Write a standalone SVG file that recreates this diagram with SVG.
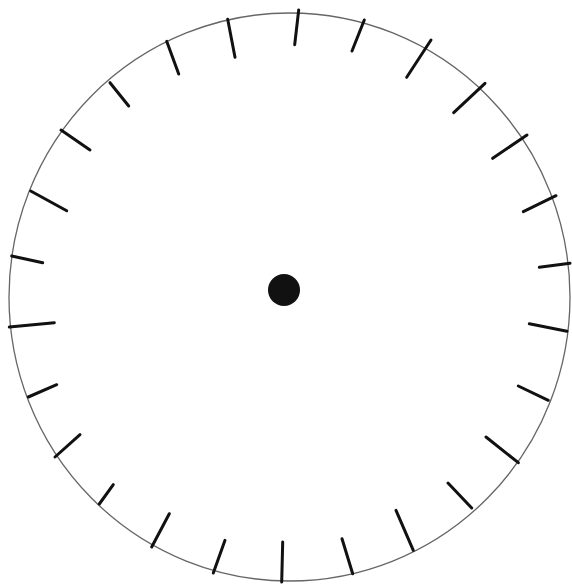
<svg xmlns="http://www.w3.org/2000/svg" width="572" height="585" viewBox="0 0 572 585">
<style>
.rim{fill:none;stroke:#666;stroke-width:1.3}
.tick{stroke:#111;stroke-width:3;stroke-linecap:round}
</style>
<rect width="572" height="585" fill="#fff"/>
<g id="dial">
<ellipse class="rim" cx="289.5" cy="297" rx="280.5" ry="284"/>
</g>
<g id="hub">
<circle cx="284" cy="290" r="16" fill="#111"/>
</g>
<g id="ticks">
<line class="tick" x1="227.7" y1="19.3" x2="235" y2="57.3"/>
<line class="tick" x1="166.7" y1="41.3" x2="178.7" y2="74"/>
<line class="tick" x1="110" y1="82.7" x2="128.7" y2="106"/>
<line class="tick" x1="61" y1="130" x2="90" y2="150"/>
<line class="tick" x1="30.7" y1="191" x2="66.7" y2="210.7"/>
<line class="tick" x1="11.7" y1="256" x2="42.7" y2="262.7"/>
<line class="tick" x1="298.7" y1="10" x2="294.7" y2="44.7"/>
<line class="tick" x1="364.3" y1="20" x2="352" y2="51"/>
<line class="tick" x1="431" y1="40" x2="406.7" y2="77.3"/>
<line class="tick" x1="485" y1="83.3" x2="453.7" y2="112.7"/>
<line class="tick" x1="527" y1="135" x2="492.7" y2="158.3"/>
<line class="tick" x1="556" y1="195.7" x2="523.3" y2="211.7"/>
<line class="tick" x1="570" y1="263.3" x2="539.3" y2="267.3"/>
<line class="tick" x1="9.3" y1="327" x2="54.3" y2="322.7"/>
<line class="tick" x1="28.3" y1="397" x2="56.7" y2="384.7"/>
<line class="tick" x1="55" y1="457" x2="80" y2="434.7"/>
<line class="tick" x1="99.3" y1="504" x2="113.3" y2="484.7"/>
<line class="tick" x1="151.7" y1="547" x2="169.3" y2="513.7"/>
<line class="tick" x1="213.3" y1="573" x2="225" y2="540.3"/>
<line class="tick" x1="281.7" y1="582" x2="282.7" y2="542"/>
<line class="tick" x1="567" y1="331.3" x2="529.3" y2="323.7"/>
<line class="tick" x1="548.3" y1="400.3" x2="518.3" y2="386"/>
<line class="tick" x1="518.3" y1="462.7" x2="486" y2="437"/>
<line class="tick" x1="471.7" y1="508" x2="448" y2="483"/>
<line class="tick" x1="413.3" y1="550.3" x2="396" y2="510.3"/>
<line class="tick" x1="352.7" y1="573.7" x2="342" y2="538.7"/>
</g>
</svg>
